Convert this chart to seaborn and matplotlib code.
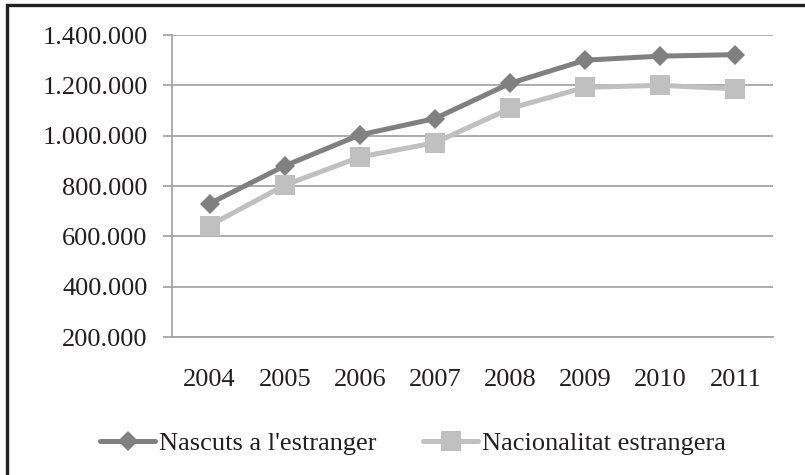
import matplotlib
matplotlib.use("Agg")
import matplotlib.pyplot as plt
import matplotlib.ticker as mticker
from matplotlib.patches import Rectangle
import seaborn as sns
import pandas as pd

years = ["2004", "2005", "2006", "2007", "2008", "2009", "2010", "2011"]
nascuts = [730000, 880000, 1003000, 1068000, 1208000, 1300000, 1316000, 1322000]
nacionalitat = [643000, 803000, 915000, 972000, 1108000, 1192000, 1200000, 1186000]
series_names = ["Nascuts a l'estranger", "Nacionalitat estrangera"]
y_ticks = [200000, 400000, 600000, 800000, 1000000, 1200000, 1400000]

df = pd.DataFrame({
    "year": years * 2,
    "value": nascuts + nacionalitat,
    "series": [series_names[0]] * len(years) + [series_names[1]] * len(years),
})

sns.set_theme(style="white")
plt.rcParams["font.family"] = ["Liberation Serif", "DejaVu Serif"]

FS = 19
TXT = "#231f20"
GRID = "#a6a6a6"

fig = plt.figure(figsize=(8.05, 4.75), dpi=100)
ax = fig.add_axes([172/805, 1-337/475, (773-172)/805, (337-35)/475])

palette = {series_names[0]: "#808080", series_names[1]: "#c0c0c0"}
markers = {series_names[0]: "D", series_names[1]: "s"}
sns.lineplot(data=df, x="year", y="value", hue="series", style="series",
             palette=palette, markers=markers, dashes=False, ax=ax,
             linewidth=3.6, markersize=14.5, markeredgewidth=0, sort=False)
for line in ax.lines:
    if line.get_marker() == "D":
        line.set_markersize(10.5)

ax.set_xlim(-0.5, len(years) - 0.5)
ax.set_ylim(200000, 1400000)
ax.set_yticks(y_ticks)
ax.yaxis.set_major_formatter(mticker.FuncFormatter(lambda v, p: f"{int(v):,}".replace(",", ".")))
ax.grid(axis="y", color=GRID, linewidth=1.3)
ax.set_axisbelow(True)
ax.set_xlabel("")
ax.set_ylabel("")

for s in ["top", "right"]:
    ax.spines[s].set_visible(False)
for s in ["left", "bottom"]:
    ax.spines[s].set_color(GRID)
    ax.spines[s].set_linewidth(1.3)

ax.set_xticks(range(len(years)))
ax.set_xticklabels(years)
ax.set_xticks([i - 0.5 for i in range(len(years) + 1)], minor=True)
ax.tick_params(axis="x", which="major", length=0, pad=23, labelsize=FS, colors=TXT)
ax.tick_params(axis="x", which="minor", length=5.5, width=1.3, color=GRID, direction="out")
ax.tick_params(axis="y", length=6.5, width=1.3, color=GRID, direction="out", pad=11,
               labelsize=FS, labelcolor=TXT, left=True)

handles, labels = ax.get_legend_handles_labels()
ax.legend(handles, labels, loc="center", bbox_to_anchor=(413/805, 1-443/475),
          bbox_transform=fig.transFigure, ncol=2, frameon=False, fontsize=FS,
          handlelength=2.1, handletextpad=0.15, columnspacing=1.75, labelcolor=TXT,
          borderpad=0, borderaxespad=0)

fig.patches.append(Rectangle((7/805, -0.02), 1.05, 1 - 5/475 + 0.02, transform=fig.transFigure,
                             fill=False, edgecolor="#222222", linewidth=2.4))

fig.savefig("out.png", dpi=100)
